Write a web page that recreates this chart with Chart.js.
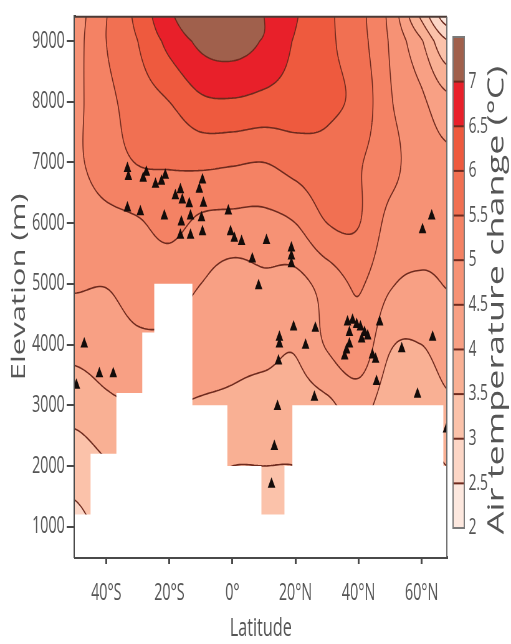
<!DOCTYPE html>
<html>
<head>
<meta charset="utf-8">
<script src="https://cdn.jsdelivr.net/npm/chart.js@4.4.0/dist/chart.umd.min.js"></script>
<style>
  html, body { margin: 0; padding: 0; background: #fff; overflow: hidden; }
</style>
</head>
<body>
<canvas id="grafico" width="820" height="644" style="width:511px;height:644px"></canvas>
<script>
// Rejilla de calentamiento (°C): filas = elevación, columnas = latitud
var latitudes = [-50, -40, -30, -20, -10, 0, 10, 20, 30, 40, 50, 60, 68];
var elevations = [1000, 2000, 3000, 4000, 5000, 6000, 7000, 8000, 9000, 9500];
var warming = [
  [2.9, 3.1, 3.2, 3.2, 3.3, 3.3, 3.2, 3.3, 3.3, 3.4, 3.2, 3.1, 3.2],
  [3.2, 3.45, 3.6, 3.6, 3.6, 3.5, 3.5, 3.5, 3.6, 3.75, 3.4, 3.3, 3.5],
  [3.7, 3.9, 4.0, 4.0, 3.95, 3.9, 3.8, 3.8, 3.9, 4.2, 3.7, 3.6, 3.9],
  [4.15, 4.25, 4.4, 4.4, 4.25, 4.15, 4.15, 4.05, 4.55, 4.85, 4.05, 4.0, 4.25],
  [4.55, 4.52, 4.7, 4.7, 4.5, 4.3, 4.4, 4.35, 4.7, 5.05, 4.55, 4.4, 4.52],
  [4.75, 4.85, 4.95, 5.15, 4.9, 4.85, 4.85, 5.0, 5.5, 5.52, 4.85, 4.8, 4.7],
  [4.92, 5.25, 5.52, 5.55, 5.6, 5.55, 5.5, 5.7, 5.8, 5.55, 5.15, 4.75, 4.6],
  [4.9, 5.35, 5.75, 6.0, 6.4, 6.45, 6.35, 6.25, 6.1, 5.85, 5.05, 4.6, 4.15],
  [4.85, 5.5, 6.0, 6.65, 7.1, 7.2, 6.95, 6.45, 6.1, 5.7, 4.95, 4.05, 3.05],
  [4.8, 5.48, 6.15, 6.95, 7.3, 7.4, 7.0, 6.55, 6.1, 5.65, 4.85, 3.3, 2.1]
];

// Relieve (zona blanca): escalones de latitud y su elevación
var terrainLat = [-50, -45, -36.8, -28.6, -24.8, -12.7, -1.6, 9.2, 16.5, 19, 66.9, 68];
var terrainElev = [1200, 2200, 3200, 4200, 5000, 3000, 2000, 1200, 2000, 3000, 2000, 2000];

// Estaciones (triángulos)
var stationLat = [-33.3, -33.0, -28.3, -27.3, -24.4, -22.5, -21.3, -33.3, -29.2, -21.6, -18.1, -16.5, -15.9, -13.7,
  -10.5, -9.5, -9.2, -9.8, -13.3, -16.2, -16.5, -13.3, -9.5, -1.3, -0.6, 0.6, 2.9, 10.8, 6.3, 8.3, 18.7, 18.7, 18.7,
  19.4, 14.9, 14.9, 26.3, 23.2, 14.6, 26.0, 14.3, 36.5, 38.1, 39.4, 40.6, 41.9, 42.9, 37.1, 37.1, 36.2, 35.6, 41.0,
  46.7, 44.4, 45.4, 45.7, 53.7, 63.5, 58.7, 63.2, 60.3, 67.9, -47.0, -42.2, -37.8, -49.5, 13.3, 12.4];
var stationElev = [6900, 6770, 6740, 6840, 6640, 6690, 6790, 6250, 6190, 6120, 6450, 6550, 6380, 6320,
  6560, 6710, 6330, 6090, 6120, 6020, 5800, 5800, 5860, 6200, 5860, 5750, 5700, 5715, 5410, 4970, 5590, 5460, 5330,
  4290, 4120, 4010, 4270, 3990, 3730, 3130, 2980, 4370, 4400, 4330, 4290, 4200, 4140, 4200, 4010, 3910, 3810, 4090,
  4370, 3830, 3760, 3390, 3930, 4120, 3180, 6120, 5890, 2610, 4010, 3520, 3520, 3330, 2320, 1700];

// Niveles y colores de la escala
var levels = [2, 2.5, 3, 3.5, 4, 4.5, 5, 5.5, 6, 6.5, 7, 7.5];
var bandColors = ['#fde8df', '#fcd6c6', '#fbc2aa', '#f9b094', '#f8a084', '#f69275',
  '#f48264', '#f17052', '#ee5a3e', '#e8202a', '#a0604c'];
var latTicks = [-40, -20, 0, 20, 40, 60];
var elevTicks = [1000, 2000, 3000, 4000, 5000, 6000, 7000, 8000, 9000];

var fuente = "'Open Sans', 'DejaVu Sans', sans-serif";
var gris = '#555555';
var colorLinea = '#6e2a1e';

function catmull(p0, p1, p2, p3, t) {
  return p1 + 0.5 * t * (p2 - p0 + t * (2 * p0 - 5 * p1 + 4 * p2 - p3 + t * (3 * (p1 - p2) + p3 - p0)));
}
function ubicar(arr, v) {
  var i = 0;
  while (i < arr.length - 2 && v > arr[i + 1]) i++;
  var t = (v - arr[i]) / (arr[i + 1] - arr[i]);
  return [i, Math.max(0, Math.min(1, t))];
}
function valorEn(lat, elev) {
  var a = ubicar(latitudes, lat), b = ubicar(elevations, elev);
  var i = a[0], t = a[1], j = b[0], u = b[1];
  function fila(r) {
    var R = warming[Math.max(0, Math.min(elevations.length - 1, r))];
    function c(k) { return R[Math.max(0, Math.min(latitudes.length - 1, k))]; }
    return catmull(c(i - 1), c(i), c(i + 1), c(i + 2), t);
  }
  return catmull(fila(j - 1), fila(j), fila(j + 1), fila(j + 2), u);
}
function hexRgb(h) {
  return [parseInt(h.slice(1, 3), 16), parseInt(h.slice(3, 5), 16), parseInt(h.slice(5, 7), 16)];
}

// Plugin: campo de contornos rellenos + isolíneas
var campoPlugin = {
  id: 'campo',
  beforeDatasetsDraw: function (chart) {
    var ctx = chart.ctx, a = chart.chartArea, sx = chart.scales.x, sy = chart.scales.y;
    var x0 = Math.round(a.left), x1 = Math.round(a.right), y0 = Math.round(a.top), y1 = Math.round(a.bottom);
    var w = x1 - x0, h = y1 - y0;
    var img = ctx.createImageData(w, h);
    var rgb = bandColors.map(hexRgb);
    var lats = [], elevs = [];
    for (var i = 0; i < w; i++) lats.push(sx.getValueForPixel(x0 + i + 0.5));
    for (var j = 0; j < h; j++) elevs.push(sy.getValueForPixel(y0 + j + 0.5));
    for (j = 0; j < h; j++) {
      for (i = 0; i < w; i++) {
        var v = valorEn(lats[i], elevs[j]);
        var k = Math.max(0, Math.min(bandColors.length - 1, Math.floor((v - 2) / 0.5)));
        var p = (j * w + i) * 4;
        img.data[p] = rgb[k][0]; img.data[p + 1] = rgb[k][1]; img.data[p + 2] = rgb[k][2]; img.data[p + 3] = 255;
      }
    }
    ctx.putImageData(img, x0, y0);

    // isolíneas por cuadrados marchantes
    var s = 3, pxs = [], pys = [];
    for (var X = x0; X < x1; X += s) pxs.push(X);
    pxs.push(x1);
    for (var Y = y0; Y < y1; Y += s) pys.push(Y);
    pys.push(y1);
    var g = [];
    for (j = 0; j < pys.length; j++) {
      var e = sy.getValueForPixel(pys[j]);
      g.push(pxs.map(function (px) { return valorEn(sx.getValueForPixel(px), e); }));
    }
    ctx.save();
    ctx.beginPath();
    ctx.rect(a.left, a.top, a.right - a.left, a.bottom - a.top);
    ctx.clip();
    ctx.strokeStyle = colorLinea;
    ctx.lineWidth = 1.6;
    levels.slice(1, -1).forEach(function (L) {
      ctx.beginPath();
      for (var j = 0; j < pys.length - 1; j++) {
        for (var i = 0; i < pxs.length - 1; i++) {
          var va = g[j][i], vb = g[j][i + 1], vc = g[j + 1][i + 1], vd = g[j + 1][i];
          var xa = pxs[i], xb = pxs[i + 1], ya = pys[j], yb = pys[j + 1];
          var pts = [];
          if ((va >= L) !== (vb >= L)) pts.push([xa + (xb - xa) * (L - va) / (vb - va), ya]);
          if ((vb >= L) !== (vc >= L)) pts.push([xb, ya + (yb - ya) * (L - vb) / (vc - vb)]);
          if ((vd >= L) !== (vc >= L)) pts.push([xa + (xb - xa) * (L - vd) / (vc - vd), yb]);
          if ((va >= L) !== (vd >= L)) pts.push([xa, ya + (yb - ya) * (L - va) / (vd - va)]);
          if (pts.length >= 2) { ctx.moveTo(pts[0][0], pts[0][1]); ctx.lineTo(pts[1][0], pts[1][1]); }
          if (pts.length === 4) { ctx.moveTo(pts[2][0], pts[2][1]); ctx.lineTo(pts[3][0], pts[3][1]); }
        }
      }
      ctx.stroke();
    });
    ctx.restore();
  },
  afterDatasetsDraw: function (chart) {
    var ctx = chart.ctx, a = chart.chartArea;
    ctx.save();
    ctx.strokeStyle = '#4a3a36';
    ctx.lineWidth = 2;
    ctx.beginPath();
    ctx.moveTo(a.left, a.top); ctx.lineTo(a.right, a.top);
    ctx.stroke();
    ctx.strokeStyle = '#6a6a6a';
    ctx.lineWidth = 2;
    ctx.beginPath();
    ctx.moveTo(a.right, a.top); ctx.lineTo(a.right, a.bottom);
    ctx.stroke();
    ctx.restore();
  },
  afterDraw: function (chart) {
    // Barra de color
    var ctx = chart.ctx;
    var cb = { left: 727, right: 745, top: 37, bottom: 528 };
    function cy(v) { return cb.bottom - (v - levels[0]) / (levels[levels.length - 1] - levels[0]) * (cb.bottom - cb.top); }
    ctx.save();
    for (var k = 0; k < bandColors.length; k++) {
      ctx.fillStyle = bandColors[k];
      ctx.fillRect(cb.left, cy(levels[k + 1]), cb.right - cb.left, cy(levels[k]) - cy(levels[k + 1]));
    }
    ctx.strokeStyle = colorLinea;
    ctx.lineWidth = 2;
    levels.slice(1, -1).forEach(function (L) {
      ctx.beginPath();
      ctx.moveTo(cb.left, cy(L)); ctx.lineTo(cb.right, cy(L));
      ctx.stroke();
    });
    ctx.strokeStyle = '#7a7a7a';
    ctx.lineWidth = 2;
    ctx.strokeRect(cb.left, cb.top, cb.right - cb.left, cb.bottom - cb.top);
    ctx.fillStyle = gris;
    ctx.font = '22px ' + fuente;
    ctx.textAlign = 'left';
    ctx.textBaseline = 'middle';
    levels.slice(0, -1).forEach(function (L) {
      ctx.fillText(String(L), 752, cy(L));
    });
    ctx.translate(798, 300);
    ctx.rotate(-Math.PI / 2);
    ctx.textAlign = 'center';
    ctx.font = '36px ' + fuente;
    ctx.fillText('Air temperature change (°C)', 0, 0);
    ctx.restore();
  }
};

var ctx = document.getElementById('grafico').getContext('2d');

var estaciones = stationLat.map(function (la, i) { return { x: la, y: stationElev[i] }; });
var relieve = terrainLat.map(function (la, i) { return { x: la, y: terrainElev[i] }; });

var grafico = new Chart(ctx, {
  type: 'line',
  data: {
    datasets: [{
      label: 'Estaciones',
      data: estaciones,
      showLine: false,
      pointStyle: 'triangle',
      pointRadius: 7,
      pointBackgroundColor: '#140c0a',
      pointBorderColor: '#140c0a',
      pointBorderWidth: 0,
      order: 1
    }, {
      label: 'Relieve',
      data: relieve,
      stepped: 'before',
      fill: 'start',
      backgroundColor: '#ffffff',
      borderColor: 'rgba(0,0,0,0)',
      borderWidth: 0,
      pointRadius: 0,
      order: 2
    }]
  },
  options: {
    responsive: false,
    animation: false,
    events: [],
    layout: { padding: { left: 0, right: 103, top: 10, bottom: 0 } },
    plugins: { legend: { display: false }, tooltip: { enabled: false } },
    scales: {
      x: {
        type: 'linear',
        min: -50,
        max: 68,
        afterFit: function (s) { s.height = 87; },
        afterBuildTicks: function (s) { s.ticks = latTicks.map(function (v) { return { value: v }; }); },
        grid: { drawOnChartArea: false, drawTicks: true, tickLength: 7, color: '#4a4a4a', lineWidth: 3 },
        border: { display: true, color: '#4a4a4a', width: 3 },
        ticks: {
          color: gris,
          font: { family: fuente, size: 23 },
          padding: 16,
          maxRotation: 0,
          callback: function (v) { return v === 0 ? '0°' : Math.abs(v) + '°' + (v < 0 ? 'S' : 'N'); }
        },
        title: { display: true, text: 'Latitude', color: gris, font: { family: fuente, size: 26 }, padding: { top: 0, bottom: 0 } }
      },
      y: {
        type: 'linear',
        min: 500,
        max: 9400,
        afterFit: function (s) { s.width = 120; },
        afterBuildTicks: function (s) { s.ticks = elevTicks.map(function (v) { return { value: v }; }); },
        grid: { drawOnChartArea: false, drawTicks: true, tickLength: 13, color: '#4a4a4a', lineWidth: 2 },
        border: { display: true, color: '#4a4a4a', width: 4 },
        ticks: { color: gris, font: { family: fuente, size: 23 }, padding: 3, callback: function (v) { return String(v); } },
        title: { display: true, text: 'Elevation (m)', color: gris, font: { family: fuente, size: 31 }, padding: { top: 13, bottom: 0 } }
      }
    }
  },
  plugins: [campoPlugin]
});
</script>
</body>
</html>
